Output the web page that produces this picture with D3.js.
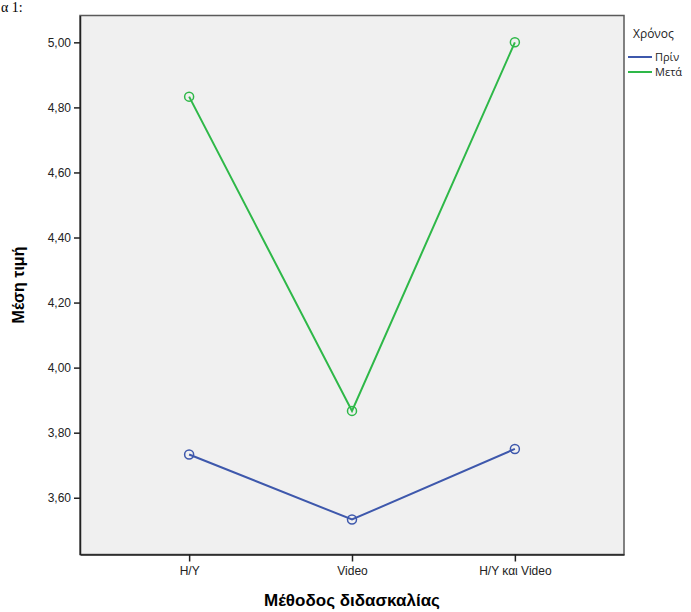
<!DOCTYPE html>
<html><head><meta charset="utf-8">
<script src="https://cdn.jsdelivr.net/npm/d3@7"></script>
<style>body{margin:0;background:#fff}svg{display:block}</style>
</head><body>
<svg id="chart" width="691" height="612"></svg>
<script>
const categories = ["H/Y", "Video", "H/Y και Video"];
const seriesNames = ["Πρίν", "Μετά"];
const before = [3.733, 3.533, 3.750];
const after = [4.833, 3.867, 5.000];
const yTicks = [3.6, 3.8, 4.0, 4.2, 4.4, 4.6, 4.8, 5.0];
const colors = ["#3e58ac", "#2eb848"];

const svg = d3.select("#chart");
const L = 80, R = 624, T = 15.5, B = 554.5;

const x = d3.scalePoint().domain(categories).range([L, R]).padding(0.67);
const y = d3.scaleLinear().domain([3.4255, 5.0825]).range([B, T]);

// document text above the chart
svg.append("text").attr("x", 1).attr("y", 12).attr("font-family", "Liberation Serif")
  .attr("font-size", 14).attr("fill", "#000").text("α 1:");

svg.append("rect").attr("x", L).attr("y", T).attr("width", R - L).attr("height", B - T)
  .attr("fill", "#f0f0f0").attr("stroke", "#5a5a5a").attr("stroke-width", 1.5);

const fmt = d => d.toFixed(2).replace(".", ",");
const yAxis = svg.append("g").attr("transform", `translate(${L},0)`)
  .call(d3.axisLeft(y).tickValues(yTicks).tickFormat(fmt).tickSize(6).tickSizeOuter(0).tickPadding(3));
const xAxis = svg.append("g").attr("transform", `translate(0,${B})`)
  .call(d3.axisBottom(x).tickSize(7).tickSizeOuter(0).tickPadding(5));
[yAxis, xAxis].forEach(g => {
  g.select(".domain").attr("stroke", "#222").attr("stroke-width", 1.5);
  g.selectAll(".tick line").attr("stroke", "#222").attr("stroke-width", 1.5);
  g.selectAll(".tick text").attr("font-family", "Liberation Sans").attr("font-size", 12).attr("fill", "#222");
});

const line = d3.line().x((d, i) => x(categories[i])).y(d => y(d));
[before, after].forEach((s, k) => {
  svg.append("path").datum(s).attr("d", line).attr("fill", "none")
    .attr("stroke", colors[k]).attr("stroke-width", 2);
  svg.selectAll(null).data(s).enter().append("circle")
    .attr("cx", (d, i) => x(categories[i])).attr("cy", d => y(d)).attr("r", 4.5)
    .attr("fill", "none").attr("stroke", colors[k]).attr("stroke-width", 1.5);
});

svg.append("text").attr("transform", `translate(24,${(T + B) / 2}) rotate(-90)`)
  .attr("text-anchor", "middle").attr("font-family", "Liberation Sans").attr("font-weight", "bold")
  .attr("font-size", 16).attr("fill", "#000").text("Μέση τιμή");
svg.append("text").attr("x", (L + R) / 2).attr("y", 606)
  .attr("text-anchor", "middle").attr("font-family", "Liberation Sans").attr("font-weight", "bold")
  .attr("font-size", 17).attr("fill", "#000").text("Μέθοδος διδασκαλίας");

// legend
const lg = svg.append("g");
lg.append("text").attr("x", 633).attr("y", 38).attr("font-family", "Open Sans")
  .attr("font-size", 12).attr("fill", "#222").text("Χρόνος");
seriesNames.forEach((n, k) => {
  const yy = 57 + k * 15;
  lg.append("line").attr("x1", 628).attr("x2", 652).attr("y1", yy).attr("y2", yy)
    .attr("stroke", colors[k]).attr("stroke-width", 2);
  lg.append("text").attr("x", 655).attr("y", yy + 4).attr("font-family", "Open Sans")
    .attr("font-size", 11).attr("fill", "#222").text(n);
});
</script>
</body></html>
